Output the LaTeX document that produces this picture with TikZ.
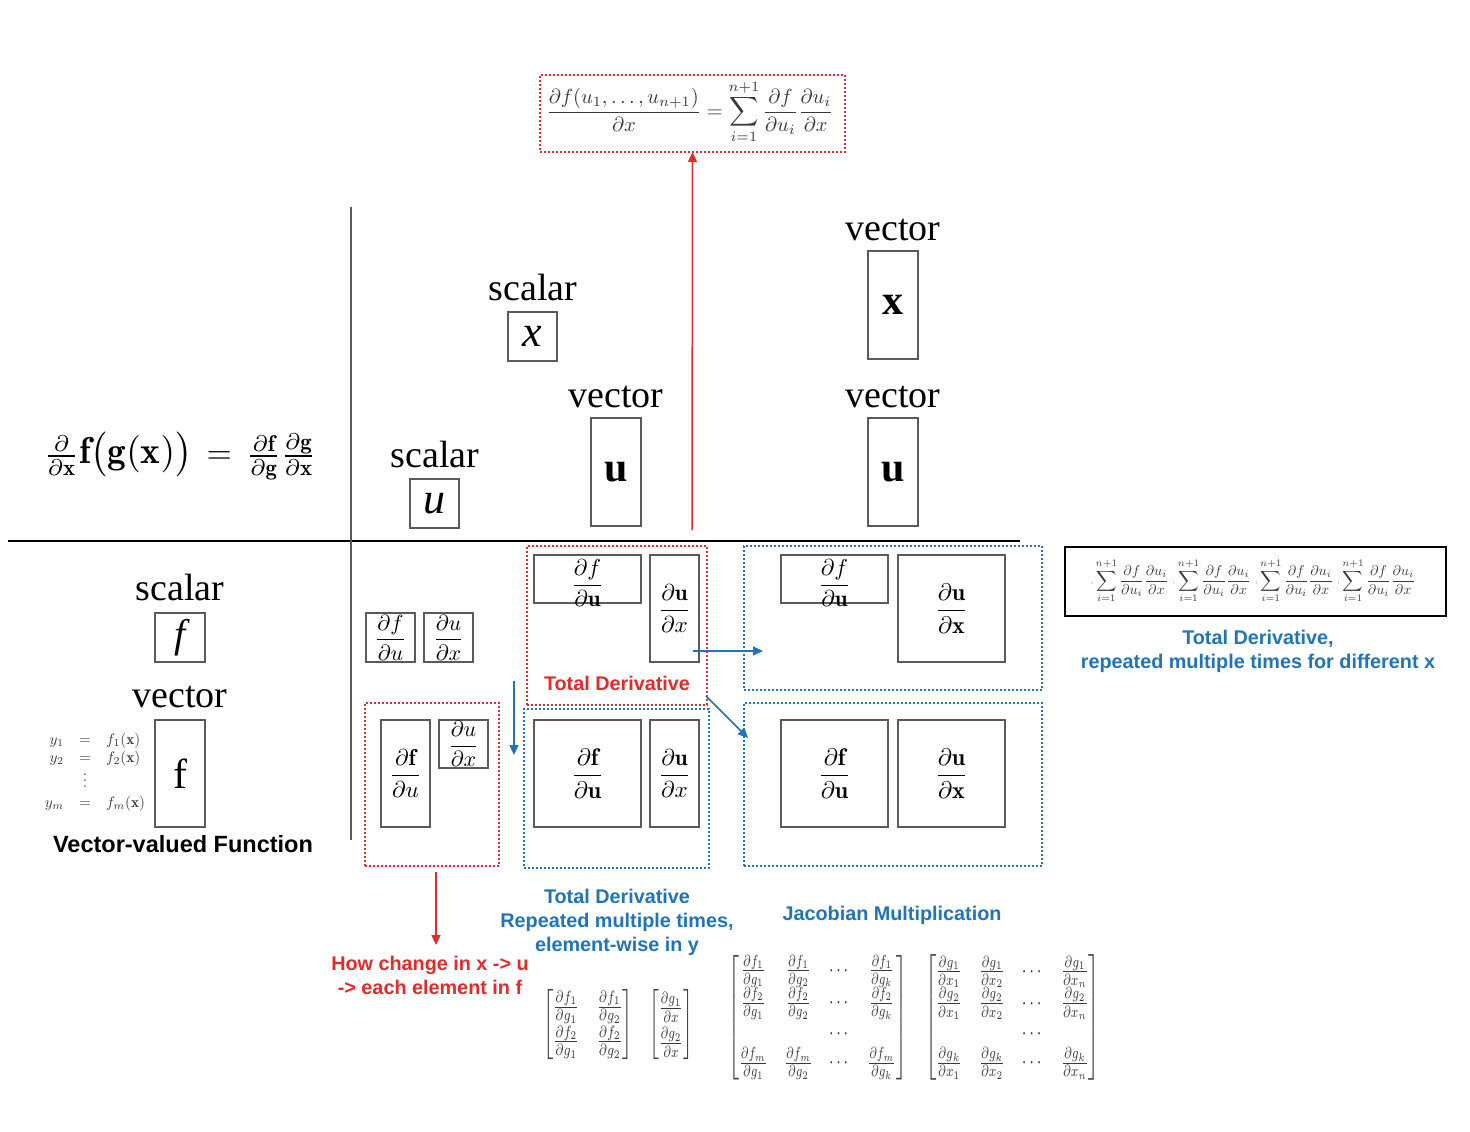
\documentclass[tikz,border=0pt]{standalone}
\usepackage{amsmath}
\usepackage{graphicx}
\usepackage{fontspec}
\newfontfamily\lserif{Liberation Serif}
\newfontfamily\lsans{Liberation Sans}
\usetikzlibrary{arrows.meta}
\definecolor{myred}{HTML}{E42A2A}
\definecolor{myblue}{HTML}{1F74BA}
\definecolor{boxgray}{HTML}{5A5A5A}
\definecolor{mathgray}{HTML}{3A3A3A}
\newcommand\fsz[1]{\fontsize{#1}{#1}\selectfont}
\newcommand\fr[2]{\scalebox{#1}{$\displaystyle #2$}}
\begin{document}
\begin{tikzpicture}[x=1pt,y=-1pt,
  gbox/.style={draw=boxgray, line width=1.4pt, inner sep=0pt, outer sep=0pt, anchor=center},
  rdot/.style={draw=myred, line width=2pt, dash pattern=on 2pt off 2pt, inner sep=0pt, outer sep=0pt},
  bdot/.style={draw=myblue, line width=2pt, dash pattern=on 2pt off 2pt, inner sep=0pt, outer sep=0pt},
  lbl/.style={font=\lserif\fsz{38}, anchor=base, inner sep=0pt},
  rtxt/.style={font=\lsans\bfseries\fontsize{19.8}{24}\selectfont, text=myred, align=center, inner sep=0pt},
  btxt/.style={font=\lsans\bfseries\fontsize{19.8}{24}\selectfont, text=myblue, align=center, inner sep=0pt},
  rarr/.style={draw=myred, line width=1.5pt, -{Triangle[length=10pt,width=9pt]}},
  barr/.style={draw=myblue, line width=1.5pt, -{Triangle[length=10pt,width=9pt]}},
  plain/.style={inner sep=0pt, outer sep=0pt},
]
\fill[white] (0,0) rectangle (1470,1132);
\useasboundingbox (0,0) rectangle (1470,1132);

% axes
\draw[black, line width=1.2pt] (8,541) -- (1020,541);
\draw[boxgray, line width=1.8pt] (351,207) -- (351,840);

% top formula
\node[rdot, minimum width=305pt, minimum height=77pt] (topf) at (692.5,113.5) {};
\node[plain, text=mathgray] (topeq) at (690,112) {\resizebox{287pt}{!}{$\displaystyle\frac{\partial f(u_1,\ldots,u_{n+1})}{\partial x} = \sum_{i=1}^{n+1}\frac{\partial f}{\partial u_i}\frac{\partial u_i}{\partial x}$}};
\coordinate (rstart) at (692,530);
\draw[rarr] (rstart) -- (topf.south);

% chain rule
\node[plain] (chain) at (180,456) {\resizebox{272pt}{!}{$\frac{\partial}{\partial\mathbf{x}}\scalebox{1.15}{$\mathbf{f}\bigl(\mathbf{g}(\mathbf{x})\bigr)$}\,=\,\frac{\partial\mathbf{f}}{\partial\mathbf{g}}\frac{\partial\mathbf{g}}{\partial\mathbf{x}}$}};

% upper labels and boxes
\node[lbl] (l1) at (533,300) {scalar};
\node[gbox, minimum width=49pt, minimum height=49pt] (bx) at (532.5,336.5) {\lserif\itshape\fsz{44}x};
\node[lbl] (l2) at (893,240) {vector};
\node[gbox, minimum width=50pt, minimum height=108pt] (bX) at (893,305) {\lserif\bfseries\fsz{42}x};
\node[lbl] (l3) at (616,407) {vector};
\node[gbox, minimum width=50pt, minimum height=108pt] (bU1) at (616,472) {\lserif\bfseries\fsz{42}u};
\node[lbl] (l4) at (893,407) {vector};
\node[gbox, minimum width=50pt, minimum height=108pt] (bU2) at (893,472) {\lserif\bfseries\fsz{42}u};
\node[lbl] (l5) at (435,467) {scalar};
\node[gbox, minimum width=49pt, minimum height=49pt] (bu) at (434.5,503.5) {\lserif\itshape\fsz{44}u};

% left column
\node[lbl] (l6) at (180,600) {scalar};
\node[gbox, minimum width=50pt, minimum height=49pt] (bf) at (180,637.5) {\lserif\itshape\fsz{40}f};
\node[lbl] (l7) at (180,707) {vector};
\node[gbox, minimum width=50pt, minimum height=107pt] (bF) at (180,773.5) {\lserif\fsz{42}f};
\node[plain, text=mathgray] (yeq) at (95,772) {\resizebox{100pt}{!}{$\begin{array}{@{}r@{\quad}c@{\quad}l@{}} y_1 &=& f_1(\mathbf{x})\\ y_2 &=& f_2(\mathbf{x})\\[-2pt] &\vdots& \\[1pt] y_m &=& f_m(\mathbf{x})\end{array}$}};
\node[plain, font=\lsans\bfseries\fsz{23.5}] (vvf) at (183,844) {Vector-valued Function};

% small pair
\node[gbox, minimum width=49pt, minimum height=49pt] (s1) at (390.5,637.5) {\fr{2.2}{\frac{\partial f}{\partial u}}};
\node[gbox, minimum width=49pt, minimum height=49pt] (s2) at (448.5,637.5) {\fr{2.2}{\frac{\partial u}{\partial x}}};

% red dotted lower-left
\node[rdot, minimum width=134pt, minimum height=163pt] (rd1) at (432,784.5) {};
\node[gbox, minimum width=49pt, minimum height=107pt] (r1a) at (405.5,773.5) {\fr{2.3}{\frac{\partial \mathbf{f}}{\partial u}}};
\node[gbox, minimum width=49pt, minimum height=48pt] (r1b) at (463.5,744) {\fr{2.2}{\frac{\partial u}{\partial x}}};
\coordinate (rd1a) at (436,872);
\coordinate (rd1b) at (436,945);
\draw[rarr] (rd1a) -- (rd1b);
\node[rtxt] (howtxt) at (430,975) {How change in x -> u\\-> each element in f};

% red dotted total derivative
\node[rdot, minimum width=180pt, minimum height=159pt] (rd2) at (617,625.5) {};
\node[gbox, minimum width=107pt, minimum height=48pt] (t1) at (587.5,579) {};
\node[plain] (t1f) at (587.5,583) {\fr{2.3}{\frac{\partial f}{\partial \mathbf{u}}}};
\node[gbox, minimum width=49pt, minimum height=107pt] (t2) at (674.5,608.5) {\fr{2.3}{\frac{\partial \mathbf{u}}{\partial x}}};
\node[rtxt] (tdtxt) at (617,683) {Total Derivative};

% blue dotted middle
\node[bdot, minimum width=185pt, minimum height=159pt] (bd2) at (616.5,788.5) {};
\node[gbox, minimum width=107pt, minimum height=107pt] (m1) at (587.5,773.5) {\fr{2.4}{\frac{\partial \mathbf{f}}{\partial \mathbf{u}}}};
\node[gbox, minimum width=49pt, minimum height=107pt] (m2) at (674.5,773.5) {\fr{2.3}{\frac{\partial \mathbf{u}}{\partial x}}};
\node[btxt] (tdrep) at (617,922) {Total Derivative\\Repeated multiple times,\\element-wise in y};

% blue dotted top right
\node[bdot, minimum width=298pt, minimum height=144pt] (bd1) at (893,618) {};
\node[gbox, minimum width=107pt, minimum height=48pt] (q1) at (834.5,579) {};
\node[plain] (q1f) at (834.5,583) {\fr{2.3}{\frac{\partial f}{\partial \mathbf{u}}}};
\node[gbox, minimum width=107pt, minimum height=107pt] (q2) at (951.5,608.5) {\fr{2.4}{\frac{\partial \mathbf{u}}{\partial \mathbf{x}}}};

% blue dotted bottom right
\node[bdot, minimum width=298pt, minimum height=163pt] (bd3) at (893,784.5) {};
\node[gbox, minimum width=107pt, minimum height=107pt] (p1) at (834.5,773.5) {\fr{2.4}{\frac{\partial \mathbf{f}}{\partial \mathbf{u}}}};
\node[gbox, minimum width=107pt, minimum height=107pt] (p2) at (951.5,773.5) {\fr{2.4}{\frac{\partial \mathbf{u}}{\partial \mathbf{x}}}};
\node[btxt] (jac) at (892,915) {Jacobian Multiplication};

% blue arrows
\coordinate (bda) at (514,681);
\coordinate (bdb) at (514,755);
\draw[barr] (bda) -- (bdb);
\coordinate (bra) at (693,651);
\coordinate (brb) at (763,651);
\draw[barr] (bra) -- (brb);
\coordinate (bga) at (706,696);
\coordinate (bgb) at (748,738);
\draw[barr] (bga) -- (bgb);

% right box of sums
\node[draw=black, line width=2pt, minimum width=381pt, minimum height=69pt, inner sep=0pt] (sumbox) at (1255.5,581.5) {};
\node[plain, text=mathgray] (sums) at (1253,581) {\resizebox{325pt}{!}{$\displaystyle
{\scriptscriptstyle :}\sum_{i=1}^{n+1}\frac{\partial f}{\partial u_i}\frac{\partial u_i}{\partial x}\;
{\scriptscriptstyle :}\sum_{i=1}^{n+1}\frac{\partial f}{\partial u_i}\frac{\partial u_i}{\partial x}\;
{\scriptscriptstyle :}\sum_{i=1}^{n+1}\frac{\partial f}{\partial u_i}\frac{\partial u_i}{\partial x}\;
{\scriptscriptstyle :}\sum_{i=1}^{n+1}\frac{\partial f}{\partial u_i}\frac{\partial u_i}{\partial x}$}};
\node[btxt] (tdx) at (1258,651) {Total Derivative,\\repeated multiple times for different x};

% matrices
\node[plain, text=mathgray] (sm1) at (588,1025) {\resizebox*{90pt}{70pt}{$\begin{bmatrix}\frac{\partial f_1}{\partial g_1} & \frac{\partial f_1}{\partial g_2}\\[2pt] \frac{\partial f_2}{\partial g_1} & \frac{\partial f_2}{\partial g_2}\end{bmatrix}$}};
\node[plain, text=mathgray] (sm2) at (671,1025) {\resizebox*{44pt}{70pt}{$\begin{bmatrix}\frac{\partial g_1}{\partial x}\\[2pt] \frac{\partial g_2}{\partial x}\end{bmatrix}$}};
\node[plain, text=mathgray] (bm1) at (817.5,1017.5) {\resizebox*{179pt}{125pt}{$\begin{bmatrix}
\frac{\partial f_1}{\partial g_1} & \frac{\partial f_1}{\partial g_2} & \cdots & \frac{\partial f_1}{\partial g_k}\\
\frac{\partial f_2}{\partial g_1} & \frac{\partial f_2}{\partial g_2} & \cdots & \frac{\partial f_2}{\partial g_k}\\
 & & \cdots & \\
\frac{\partial f_m}{\partial g_1} & \frac{\partial f_m}{\partial g_2} & \cdots & \frac{\partial f_m}{\partial g_k}
\end{bmatrix}$}};
\node[plain, text=mathgray] (bm2) at (1012.5,1017.5) {\resizebox*{175pt}{125pt}{$\begin{bmatrix}
\frac{\partial g_1}{\partial x_1} & \frac{\partial g_1}{\partial x_2} & \cdots & \frac{\partial g_1}{\partial x_n}\\
\frac{\partial g_2}{\partial x_1} & \frac{\partial g_2}{\partial x_2} & \cdots & \frac{\partial g_2}{\partial x_n}\\
 & & \cdots & \\
\frac{\partial g_k}{\partial x_1} & \frac{\partial g_k}{\partial x_2} & \cdots & \frac{\partial g_k}{\partial x_n}
\end{bmatrix}$}};
\end{tikzpicture}
\end{document}
